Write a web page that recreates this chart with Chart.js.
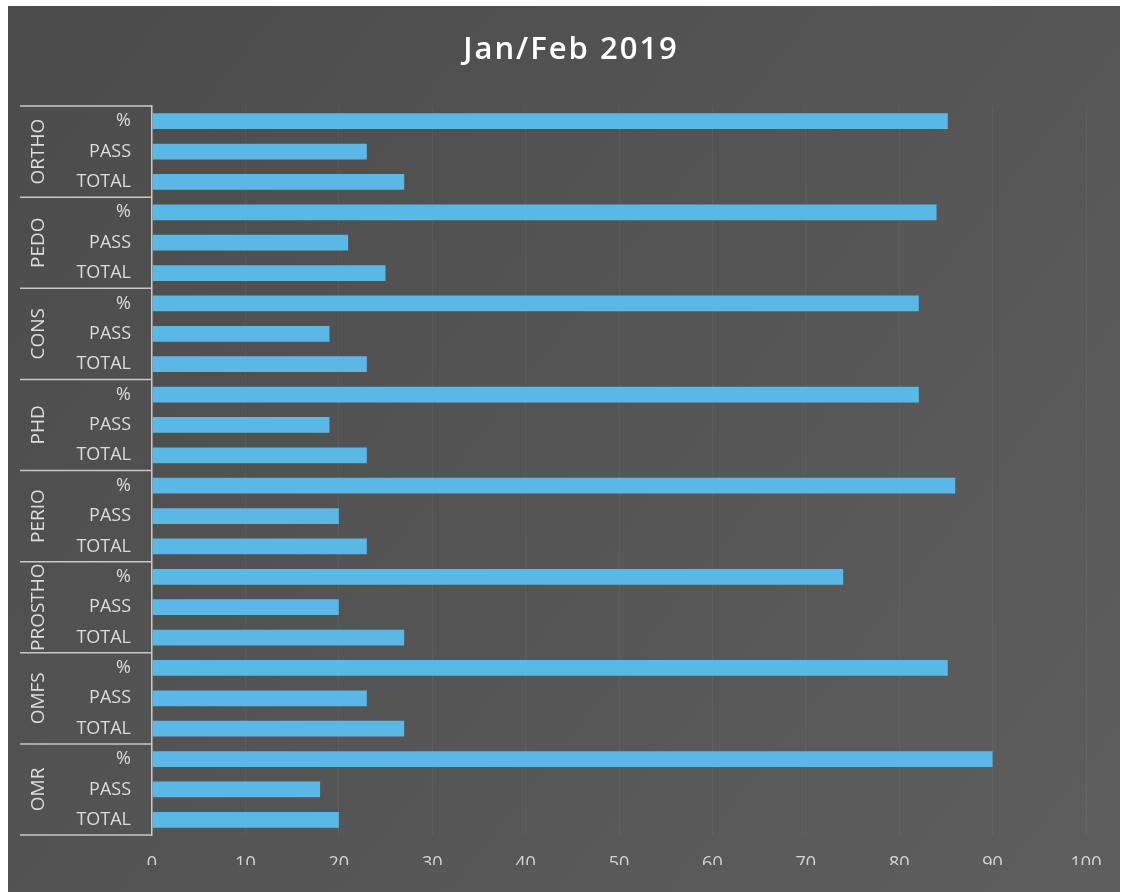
<!DOCTYPE html>
<html>
<head>
<meta charset="utf-8">
<script src="https://cdn.jsdelivr.net/npm/chart.js@4.4.1/dist/chart.umd.min.js"></script>
<style>
  html, body { margin: 0; padding: 0; background: #fff; }
  #wrap { position: absolute; left: 0; top: 0; width: 1126px; height: 892px; }
</style>
</head>
<body>
<div id="wrap"><canvas id="barChart" width="1126" height="892"></canvas></div>
<script>
/* ── data ── */
const groups = ['ORTHO', 'PEDO', 'CONS', 'PHD', 'PERIO', 'PROSTHO', 'OMFS', 'OMR'];
const subLabels = ['%', 'PASS', 'TOTAL'];
const percent = [85.2, 84, 82.1, 82.1, 86, 74, 85.2, 90];
const pass    = [23, 21, 19, 19, 20, 20, 23, 18];
const total   = [27, 25, 23, 23, 23, 27, 27, 20];
const xTicks  = [0, 10, 20, 30, 40, 50, 60, 70, 80, 90, 100];

/* ── flatten into rows (top to bottom) ── */
const labels = [];
const values = [];
groups.forEach((g, i) => {
  labels.push(subLabels[0], subLabels[1], subLabels[2]);
  values.push(percent[i], pass[i], total[i]);
});

const FONT = '"Open Sans", "DejaVu Sans", sans-serif';

/* background panel + title + grouped axis labels */
const decor = {
  id: 'decor',
  beforeDraw(chart) {
    const ctx = chart.ctx;
    ctx.save();
    const grad = ctx.createLinearGradient(0, 0, 1126, 892);
    grad.addColorStop(0, '#4b4b4b');
    grad.addColorStop(1, '#5e5e5e');
    ctx.fillStyle = grad;
    ctx.fillRect(8, 6, 1112, 886);
    ctx.restore();
  },
  afterDraw(chart) {
    const ctx = chart.ctx;
    const y = chart.scales.y;
    const step = y.getPixelForValue(1) - y.getPixelForValue(0);
    const left = 20;
    const axisX = chart.chartArea.left;
    ctx.save();

    // title
    ctx.fillStyle = '#ffffff';
    ctx.font = '600 31px ' + FONT;
    ctx.letterSpacing = '2px';
    ctx.textAlign = 'center';
    ctx.textBaseline = 'middle';
    ctx.fillText('Jan/Feb 2019', 571, 50);
    ctx.letterSpacing = '0px';

    // group separators and rotated group names
    ctx.strokeStyle = '#c8c8c8';
    ctx.lineWidth = 1.5;
    groups.forEach((g, i) => {
      const top = y.getPixelForValue(i * 3) - step / 2;
      const bottom = y.getPixelForValue(i * 3 + 2) + step / 2;
      ctx.beginPath();
      ctx.moveTo(left, top);
      ctx.lineTo(axisX, top);
      if (i === groups.length - 1) {
        ctx.moveTo(left, bottom);
        ctx.lineTo(axisX, bottom);
      }
      ctx.stroke();

      ctx.save();
      ctx.translate(39, (top + bottom) / 2);
      ctx.rotate(-Math.PI / 2);
      ctx.fillStyle = '#dcdcdc';
      ctx.font = '19px ' + FONT;
      ctx.textAlign = 'center';
      ctx.textBaseline = 'middle';
      ctx.fillText(g, 0, 0);
      ctx.restore();
    });
    ctx.restore();
  }
};

new Chart(document.getElementById('barChart'), {
  type: 'bar',
  data: {
    labels: labels,
    datasets: [{
      data: values,
      backgroundColor: '#5ab8e6',
      borderWidth: 0,
      categoryPercentage: 1,
      barPercentage: 0.52
    }]
  },
  options: {
    indexAxis: 'y',
    responsive: false,
    animation: false,
    layout: { padding: { left: 0, right: 40, top: 106, bottom: 27 } },
    plugins: {
      legend: { display: false },
      tooltip: { enabled: false }
    },
    scales: {
      x: {
        min: 0,
        max: 100,
        afterBuildTicks: s => { s.ticks = xTicks.map(v => ({ value: v })); },
        afterFit: s => { s.height = 30; },
        grid: { color: 'rgba(255,255,255,0.05)', drawTicks: false },
        border: { display: false },
        ticks: { color: '#d4d4d4', padding: 18, font: { family: FONT, size: 18 } }
      },
      y: {
        afterFit: s => { s.width = 152; },
        grid: { display: false, drawTicks: false },
        border: { display: true, color: '#c8c8c8', width: 1.5 },
        ticks: { color: '#dcdcdc', padding: 21, autoSkip: false, font: { family: FONT, size: 18 } }
      }
    }
  },
  plugins: [decor]
});
</script>
</body>
</html>
